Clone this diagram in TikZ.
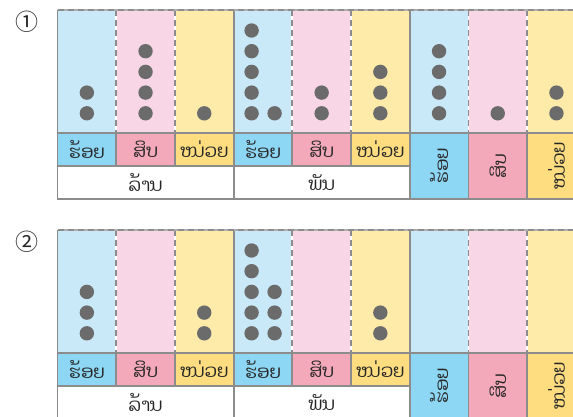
\documentclass[tikz,border=0pt]{standalone}
\usepackage{fontspec}
\newfontfamily\laofont[Script=Lao]{Dhyana}
\newfontfamily\symfont{Noto Sans CJK SC}
\definecolor{bluebg}{HTML}{C9E9F8}
\definecolor{pinkbg}{HTML}{F9D6E6}
\definecolor{yellowbg}{HTML}{FEEBA9}
\definecolor{bluelab}{HTML}{8DD6F4}
\definecolor{pinklab}{HTML}{F4A9BA}
\definecolor{yellowlab}{HTML}{FDDD80}
\definecolor{gridgray}{HTML}{8C8C8C}
\definecolor{dotgray}{HTML}{6B6B6B}
\definecolor{txtgray}{HTML}{262626}
\tikzset{
  gridline/.style={draw=gridgray, line width=1.8pt},
  cell/.style={gridline, anchor=north west, minimum width=58.7pt, minimum height=33pt,
    inner sep=0pt, outer sep=0pt, text=txtgray, font=\laofont\fontsize{18}{18}\selectfont},
  tallcell/.style={cell, minimum height=66pt},
  widecell/.style={cell, fill=white, minimum width=176.1pt},
  sepdash/.style={draw=gridgray, line width=1.8pt, dash pattern=on 6pt off 4pt},
  sepwhite/.style={draw=white, line width=1.8pt},
  numlabel/.style={font=\symfont\fontsize{23}{23}\selectfont, text=black!85, inner sep=0pt},
  dotmark/.style={fill=dotgray}
}
\newcommand\dotstack[3]{\foreach \k in {1,...,#3}{\fill[dotmark] (#1,{#2+103.3-20.7*(\k-1)}) circle (7.2pt);}}
\newcommand\drawpanel[2]{%
  \foreach \i/\c in {0/bluebg,1/pinkbg,2/yellowbg,3/bluebg,4/pinkbg,5/yellowbg,6/bluebg,7/pinkbg,8/yellowbg}{
    \fill[\c] ({57.5+58.7*\i},#1) rectangle ++(58.7,123);
  }
  % dashed separators inside groups
  \foreach \i in {1,2,4,5,7,8}{
    \draw[sepwhite] ({57.5+58.7*\i},#1) -- ++(0,123);
    \draw[sepdash] ({57.5+58.7*\i},#1) -- ++(0,123);
  }
  % solid group separators
  \foreach \i in {0,3,6}{
    \draw[gridline] ({57.5+58.7*\i},#1) -- ++(0,123);
  }
  \draw[draw=gridgray!70, line width=1.8pt] (57.5,#1) -- (573,#1);
  \draw[sepdash] (57.5,#1) -- (573,#1);
  % label row
  \node[cell, fill=bluelab]   (#2a) at (57.5,{#1+123}) {ຮ້ອຍ};
  \node[cell, fill=pinklab]   (#2b) at (116.2,{#1+123}) {ສິບ};
  \node[cell, fill=yellowlab] (#2c) at (174.9,{#1+123}) {ໜ່ວຍ};
  \node[cell, fill=bluelab]   (#2d) at (233.6,{#1+123}) {ຮ້ອຍ};
  \node[cell, fill=pinklab]   (#2e) at (292.3,{#1+123}) {ສິບ};
  \node[cell, fill=yellowlab] (#2f) at (351.0,{#1+123}) {ໜ່ວຍ};
  \node[tallcell, fill=bluelab]   (#2g) at (409.7,{#1+123}) {\rotatebox{90}{ຮ້ອຍ}};
  \node[tallcell, fill=pinklab]   (#2h) at (468.4,{#1+123}) {\rotatebox{90}{ສິບ}};
  \node[tallcell, fill=yellowlab] (#2i) at (527.1,{#1+123}) {\rotatebox{90}{ໜ່ວຍ}};
  \node[widecell] (#2m) at (57.5,{#1+156}) {ລ້ານ};
  \node[widecell] (#2p) at (233.6,{#1+156}) {ພັນ};
}
\begin{document}
\begin{tikzpicture}[x=1pt,y=-1pt]
\useasboundingbox (0,0) rectangle (573,416);
\clip (0,0) rectangle (573,416);
\fill[white] (0,0) rectangle (573,416);
% panel 1
\node[numlabel] (n1) at (27,22) {①};
\drawpanel{10}{p}
\dotstack{86.85}{10}{2}
\dotstack{145.55}{10}{4}
\dotstack{204.25}{10}{1}
\dotstack{251.6}{10}{5}
\dotstack{274.6}{10}{1}
\dotstack{321.65}{10}{2}
\dotstack{380.35}{10}{3}
\dotstack{439.05}{10}{4}
\dotstack{497.75}{10}{1}
\dotstack{556.45}{10}{2}
% panel 2
\node[numlabel] (n2) at (27,242) {②};
\drawpanel{230}{q}
\dotstack{86.85}{230}{3}
\dotstack{204.25}{230}{2}
\dotstack{251.6}{230}{5}
\dotstack{274.6}{230}{3}
\dotstack{380.35}{230}{2}
\end{tikzpicture}
\end{document}
